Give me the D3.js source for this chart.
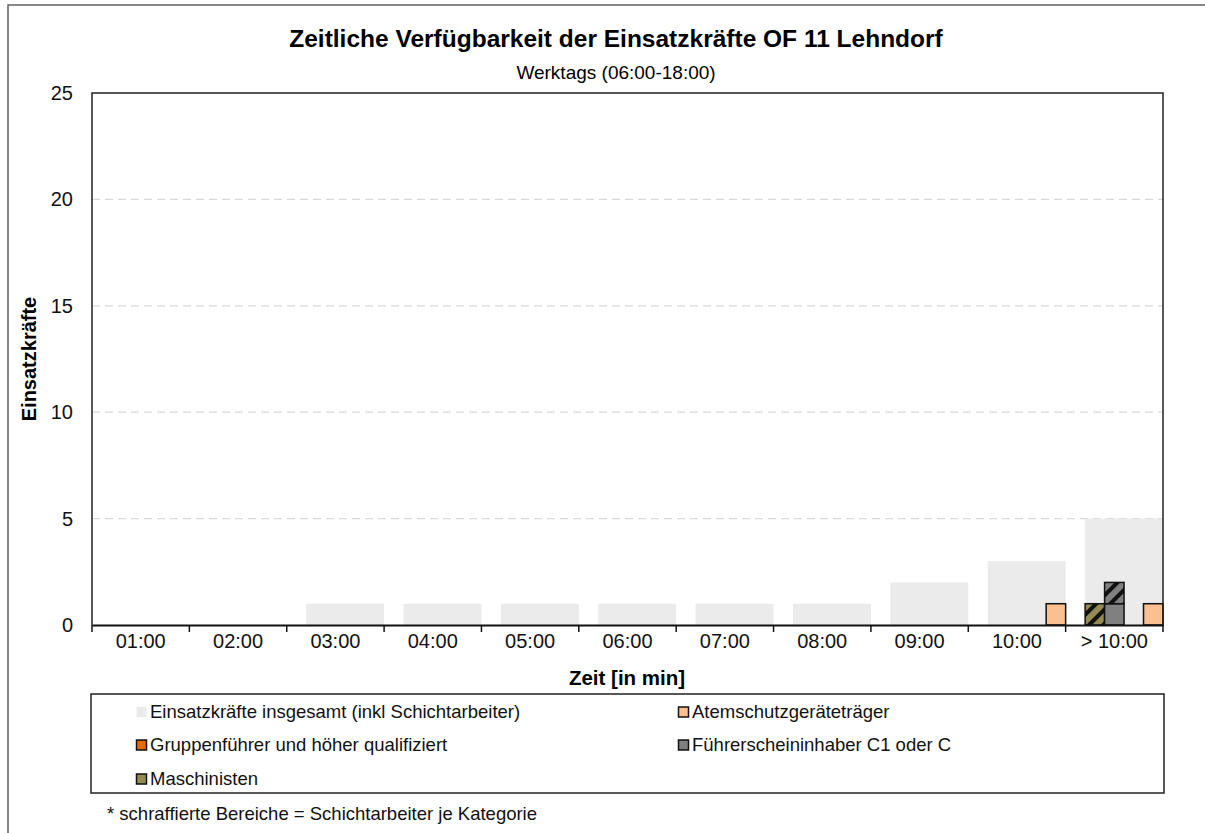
<!DOCTYPE html>
<html>
<head>
<meta charset="utf-8">
<script src="https://cdn.jsdelivr.net/npm/d3@7"></script>
<style>
  body { margin: 0; background: #fff; }
  text { font-family: "Liberation Sans", Arial, sans-serif; }
</style>
</head>
<body>
<svg id="chart" width="1205" height="833"></svg>
<script>
var categories = ["01:00", "02:00", "03:00", "04:00", "05:00", "06:00", "07:00", "08:00", "09:00", "10:00", "> 10:00"];
var yTicks = [0, 5, 10, 15, 20, 25];

// Gesamt (inkl. Schichtarbeiter)
var total = [0, 0, 1, 1, 1, 1, 1, 1, 2, 3, 5];

// je Kategorie: ohne Schicht / Schichtarbeiter (schraffiert)
var maschinisten      = [0, 0, 0, 0, 0, 0, 0, 0, 0, 0, 0];
var maschinistenShift = [0, 0, 0, 0, 0, 0, 0, 0, 0, 0, 1];
var fuehrerschein      = [0, 0, 0, 0, 0, 0, 0, 0, 0, 0, 1];
var fuehrerscheinShift = [0, 0, 0, 0, 0, 0, 0, 0, 0, 0, 1];
var gruppenfuehrer      = [0, 0, 0, 0, 0, 0, 0, 0, 0, 0, 0];
var gruppenfuehrerShift = [0, 0, 0, 0, 0, 0, 0, 0, 0, 0, 0];
var atemschutz      = [0, 0, 0, 0, 0, 0, 0, 0, 0, 1, 1];
var atemschutzShift = [0, 0, 0, 0, 0, 0, 0, 0, 0, 0, 0];

var series = [
  {key: "masch", name: "Maschinisten", color: "#948a54", solid: maschinisten, shift: maschinistenShift},
  {key: "fuehr", name: "Führerscheininhaber C1 oder C", color: "#808080", solid: fuehrerschein, shift: fuehrerscheinShift},
  {key: "grupp", name: "Gruppenführer und höher qualifiziert", color: "#e36c0a", solid: gruppenfuehrer, shift: gruppenfuehrerShift},
  {key: "atem", name: "Atemschutzgeräteträger", color: "#fac090", solid: atemschutz, shift: atemschutzShift}
];

var svg = d3.select("#chart");

var plot = {left: 92, top: 93, right: 1163, bottom: 625};

var xScale = d3.scaleBand()
    .domain(categories)
    .range([plot.left, plot.right])
    .padding(0);
var bw = xScale.bandwidth();

var yScale = d3.scaleLinear()
    .domain([0, 25])
    .range([plot.bottom, plot.top]);

var subScale = d3.scaleBand()
    .domain(series.map(d => d.key))
    .range([bw * 0.2, bw])
    .padding(0);

// hatch pattern per colour
var defs = svg.append("defs");
series.forEach(function(s) {
  var p = defs.append("pattern")
      .attr("id", "hatch-" + s.key)
      .attr("patternUnits", "userSpaceOnUse")
      .attr("width", 10)
      .attr("height", 10)
      .attr("patternTransform", "rotate(45)");
  p.append("rect").attr("width", 10).attr("height", 10).attr("fill", s.color);
  p.append("rect").attr("x", 0).attr("width", 4).attr("height", 10).attr("fill", "#111");
});

// outer chart border
svg.append("path")
    .attr("d", "M8,833 L8,5 L1205,5")
    .attr("fill", "none")
    .attr("stroke", "#606060")
    .attr("stroke-width", 1.5);

// title
svg.append("text")
    .attr("x", 616).attr("y", 47)
    .attr("text-anchor", "middle")
    .attr("font-size", 24.5)
    .attr("font-weight", "bold")
    .text("Zeitliche Verfügbarkeit der Einsatzkräfte OF 11 Lehndorf");
svg.append("text")
    .attr("x", 616).attr("y", 79)
    .attr("text-anchor", "middle")
    .attr("font-size", 19)
    .text("Werktags (06:00-18:00)");

// grid
svg.append("g")
  .selectAll("line")
  .data(yTicks.filter(d => d > 0 && d < 25))
  .join("line")
    .attr("x1", plot.left).attr("x2", plot.right)
    .attr("y1", d => yScale(d)).attr("y2", d => yScale(d))
    .attr("stroke", "#d9d9d9")
    .attr("stroke-width", 1.2)
    .attr("stroke-dasharray", "8,5");

// total bars
svg.append("g")
  .selectAll("rect")
  .data(total)
  .join("rect")
    .attr("x", (d, i) => xScale(categories[i]) + bw * 0.2)
    .attr("width", bw * 0.8)
    .attr("y", d => yScale(d))
    .attr("height", d => yScale(0) - yScale(d))
    .attr("fill", "#ebebeb");

// category bars (stacked: solid then hatched)
series.forEach(function(s) {
  var g = svg.append("g");
  var rows = categories.map((c, i) => ({c: c, a: s.solid[i], b: s.shift[i]}));
  g.selectAll("rect.solid")
    .data(rows.filter(d => d.a > 0))
    .join("rect")
      .attr("class", "solid")
      .attr("x", d => xScale(d.c) + subScale(s.key))
      .attr("width", subScale.bandwidth())
      .attr("y", d => yScale(d.a))
      .attr("height", d => yScale(0) - yScale(d.a))
      .attr("fill", s.color)
      .attr("stroke", "#111")
      .attr("stroke-width", 1.5);
  g.selectAll("rect.shift")
    .data(rows.filter(d => d.b > 0))
    .join("rect")
      .attr("class", "shift")
      .attr("x", d => xScale(d.c) + subScale(s.key))
      .attr("width", subScale.bandwidth())
      .attr("y", d => yScale(d.a + d.b))
      .attr("height", d => yScale(d.a) - yScale(d.a + d.b))
      .attr("fill", "url(#hatch-" + s.key + ")")
      .attr("stroke", "#111")
      .attr("stroke-width", 1.5);
});

// plot frame
svg.append("path")
    .attr("d", "M" + plot.left + "," + plot.bottom + " L" + plot.left + "," + plot.top +
               " L" + plot.right + "," + plot.top + " L" + plot.right + "," + plot.bottom)
    .attr("fill", "none")
    .attr("stroke", "#222")
    .attr("stroke-width", 1.5);

// x axis
var xAxis = d3.axisBottom(xScale).tickSize(0).tickPadding(9);
var gX = svg.append("g")
    .attr("transform", "translate(0," + plot.bottom + ")")
    .call(xAxis);
gX.select(".domain").attr("stroke", "#111").attr("stroke-width", 2);
gX.selectAll(".tick text").attr("font-size", 20).attr("fill", "#111")
    .attr("font-family", "Liberation Sans, Arial, sans-serif");
// tick marks at band edges
svg.append("g")
  .selectAll("line")
  .data(categories.concat(["end"]))
  .join("line")
    .attr("x1", (d, i) => plot.left + i * bw)
    .attr("x2", (d, i) => plot.left + i * bw)
    .attr("y1", plot.bottom)
    .attr("y2", plot.bottom + 7)
    .attr("stroke", "#111")
    .attr("stroke-width", 1.5);

// y axis
var yAxis = d3.axisLeft(yScale).tickValues(yTicks).tickSize(0).tickPadding(19);
var gY = svg.append("g")
    .attr("transform", "translate(" + plot.left + ",0)")
    .call(yAxis);
gY.select(".domain").remove();
gY.selectAll(".tick text").attr("font-size", 20).attr("fill", "#111")
    .attr("font-family", "Liberation Sans, Arial, sans-serif");

// axis titles
svg.append("text")
    .attr("x", 627).attr("y", 685)
    .attr("text-anchor", "middle")
    .attr("font-size", 20.5)
    .attr("font-weight", "bold")
    .text("Zeit [in min]");
svg.append("text")
    .attr("transform", "translate(36," + ((plot.top + plot.bottom) / 2) + ") rotate(-90)")
    .attr("text-anchor", "middle")
    .attr("font-size", 20)
    .attr("font-weight", "bold")
    .text("Einsatzkräfte");

// legend
svg.append("rect")
    .attr("x", 91).attr("y", 694)
    .attr("width", 1073).attr("height", 99)
    .attr("fill", "#fff")
    .attr("stroke", "#222")
    .attr("stroke-width", 1.5);

var legendItems = [
  {name: "Einsatzkräfte insgesamt (inkl Schichtarbeiter)", color: "#ebebeb", border: false, col: 0, row: 0},
  {name: series[3].name, color: series[3].color, border: true, col: 1, row: 0},
  {name: series[2].name, color: series[2].color, border: true, col: 0, row: 1},
  {name: series[1].name, color: series[1].color, border: true, col: 1, row: 1},
  {name: series[0].name, color: series[0].color, border: true, col: 0, row: 2}
];
var legX = [136, 678], legY = [718, 751, 785];
var leg = svg.append("g")
  .selectAll("g")
  .data(legendItems)
  .join("g")
    .attr("transform", d => "translate(" + legX[d.col] + "," + legY[d.row] + ")");
leg.append("rect")
    .attr("x", 0.5).attr("y", -11)
    .attr("width", 10).attr("height", 10)
    .attr("fill", d => d.color)
    .attr("stroke", d => d.border ? "#111" : "none")
    .attr("stroke-width", 1.5);
leg.append("text")
    .attr("x", 14).attr("y", 0)
    .attr("font-size", 18.5)
    .attr("fill", "#111")
    .text(d => d.name);

// footnote
svg.append("text")
    .attr("x", 107).attr("y", 820)
    .attr("font-size", 18.5)
    .attr("fill", "#111")
    .text("* schraffierte Bereiche = Schichtarbeiter je Kategorie");
</script>
</body>
</html>
